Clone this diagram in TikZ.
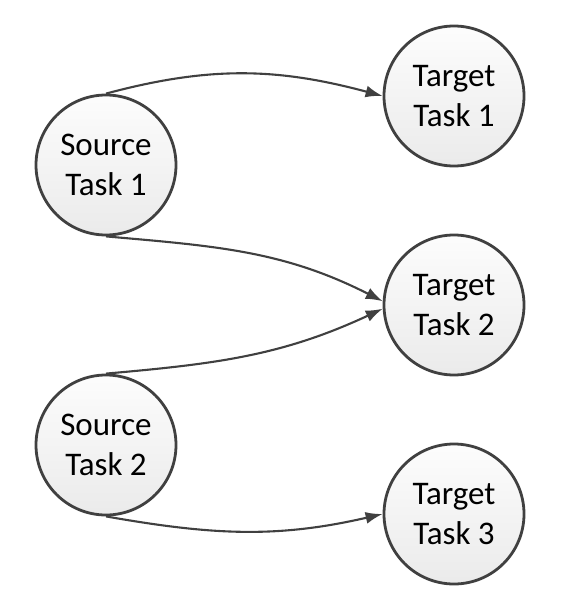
\documentclass[tikz,border=0pt]{standalone}
\usepackage{fontspec}
\setmainfont{Carlito}
\usetikzlibrary{arrows.meta}
\definecolor{edgegray}{HTML}{404040}
\begin{document}
\begin{tikzpicture}[x=1pt,y=-1pt,
  task/.style={circle, draw=edgegray, line width=2.8pt, minimum size=140pt, inner sep=0pt,
    top color=white!99!black, bottom color=white!92!black, align=center,
    font=\fontsize{33}{40}\selectfont},
  link/.style={draw=edgegray, line width=2.1pt, -{Latex[length=17pt,width=12pt]}}]
  \useasboundingbox (0,0) rectangle (570,604);
  \node[task] (s1) at (106,165) {Source\\Task 1};
  \node[task] (s2) at (106,445) {Source\\Task 2};
  \node[task] (t1) at (454,96)  {Target\\Task 1};
  \node[task] (t2) at (454,305) {Target\\Task 2};
  \node[task] (t3) at (454,514) {Target\\Task 3};
  % y runs downwards, so anchor 177 lies just above the west point of t2
  \path[link] (s1.north) to[out=15, in=165] (t1.west);
  \path[link] (s1.south) to[out=-5, in=153] (t2.177);
  \path[link] (s2.north) to[out=5, in=205] (t2.183);
  \path[link] (s2.south) to[out=-10, in=193] (t3.west);
\end{tikzpicture}
\end{document}
